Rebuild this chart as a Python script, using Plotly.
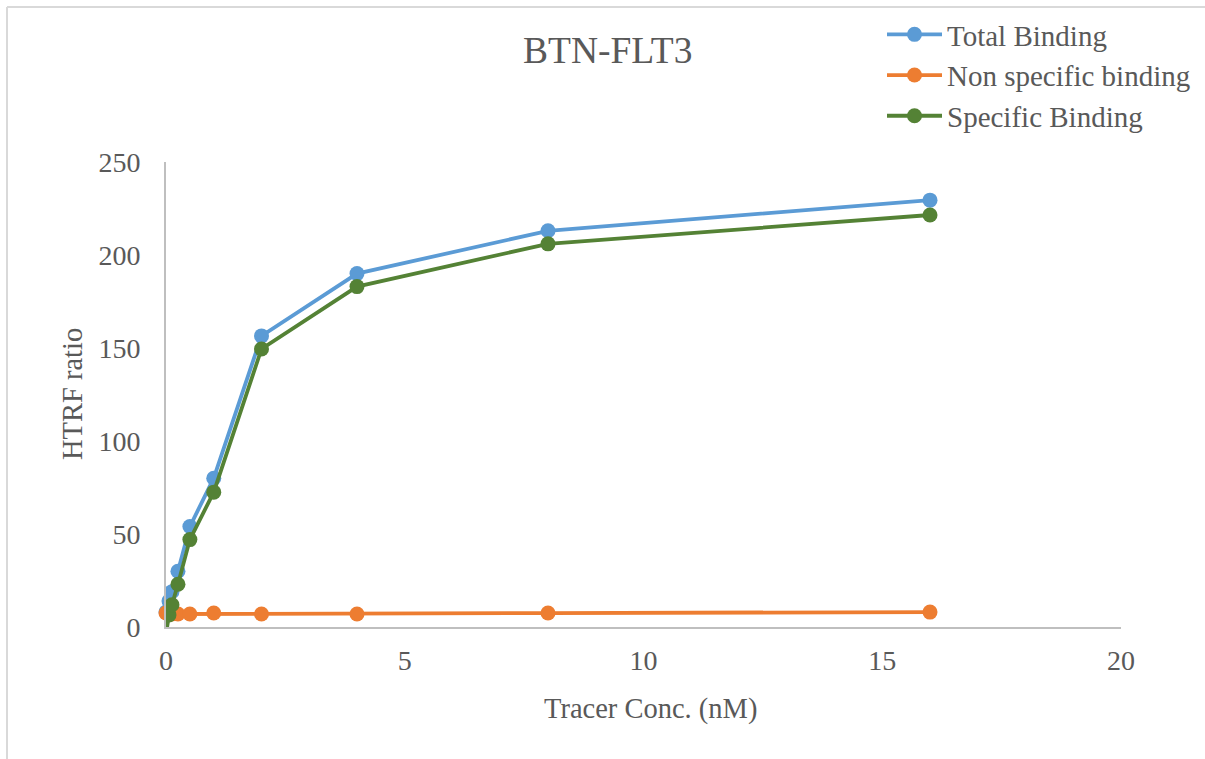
import plotly.graph_objects as go

conc = [0, 0.0625, 0.125, 0.25, 0.5, 1, 2, 4, 8, 16]
total_binding = [8, 14, 19, 30, 54, 80, 156.5, 190, 213, 229.5]
nonspecific_binding = [7.5, 7, 7, 7, 7, 7.5, 7, 7, 7.5, 8]
specific_binding = [-4, 6.5, 12, 23, 47, 72.5, 149.5, 183, 206, 221.5]

x_ticks = [0, 5, 10, 15, 20]
y_ticks = [0, 50, 100, 150, 200, 250]

names = ["Total Binding", "Non specific binding", "Specific Binding"]
colors = ["#5B9BD5", "#ED7D31", "#548235"]
series = [total_binding, nonspecific_binding, specific_binding]
clip = [False, False, True]

W, H = 1205, 759
L, R, T, B = 166, 1121, 162, 627

fig = go.Figure()
for name, col, ys, c in zip(names, colors, series, clip):
    fig.add_trace(go.Scatter(
        x=conc, y=ys, name=name, mode="lines+markers",
        line=dict(color=col, width=3.8),
        marker=dict(color=col, size=15),
        cliponaxis=c,
    ))

FONT = "Liberation Serif, Times New Roman, serif"
GREY = "#595959"

def px(xp):
    return (xp - L) / (R - L)

def py(yp):
    return (B - yp) / (B - T)

fig.update_layout(
    width=W, height=H,
    margin=dict(l=L, r=W - R, t=T, b=H - B, autoexpand=False),
    paper_bgcolor="white", plot_bgcolor="white",
    font=dict(family=FONT, color=GREY, size=28),
    showlegend=True,
    legend=dict(
        x=px(882), y=py(9), xanchor="left", yanchor="top",
        font=dict(family=FONT, size=29, color=GREY),
        itemwidth=55, tracegroupgap=0, bgcolor="rgba(0,0,0,0)",
    ),
    annotations=[
        dict(text="BTN-FLT3", x=px(607), y=py(51), xref="paper", yref="paper",
             showarrow=False, font=dict(family=FONT, size=37.5, color=GREY),
             xanchor="center", yanchor="middle"),
        dict(text="Tracer Conc. (nM)", x=px(650), y=py(709), xref="paper", yref="paper",
             showarrow=False, font=dict(family=FONT, size=28.5, color=GREY),
             xanchor="center", yanchor="middle"),
        dict(text="HTRF ratio", x=px(72), y=py(394), xref="paper", yref="paper",
             showarrow=False, font=dict(family=FONT, size=28.5, color=GREY),
             xanchor="center", yanchor="middle", textangle=-90),
    ],
    shapes=[
        dict(type="line", xref="paper", yref="paper",
             x0=px(7), x1=px(1210), y0=py(7), y1=py(7),
             line=dict(color="#D9D9D9", width=2)),
        dict(type="line", xref="paper", yref="paper",
             x0=px(7), x1=px(7), y0=py(7), y1=py(765),
             line=dict(color="#D9D9D9", width=2)),
    ],
)

fig.update_xaxes(
    range=[0, 20], tickvals=x_ticks, showgrid=False, zeroline=False,
    showline=True, linecolor="#BFBFBF", linewidth=2, ticks="",
    tickfont=dict(family=FONT, size=28, color=GREY), ticklabelstandoff=7,
)
fig.update_yaxes(
    range=[0, 250], tickvals=y_ticks, showgrid=False, zeroline=False,
    showline=True, linecolor="#BFBFBF", linewidth=2, ticks="",
    tickfont=dict(family=FONT, size=28, color=GREY), ticklabelstandoff=18,
)

fig.write_html(
    "out.html",
    config={"displayModeBar": False},
    post_script="document.body.style.margin='0';document.body.style.overflow='hidden';",
)
